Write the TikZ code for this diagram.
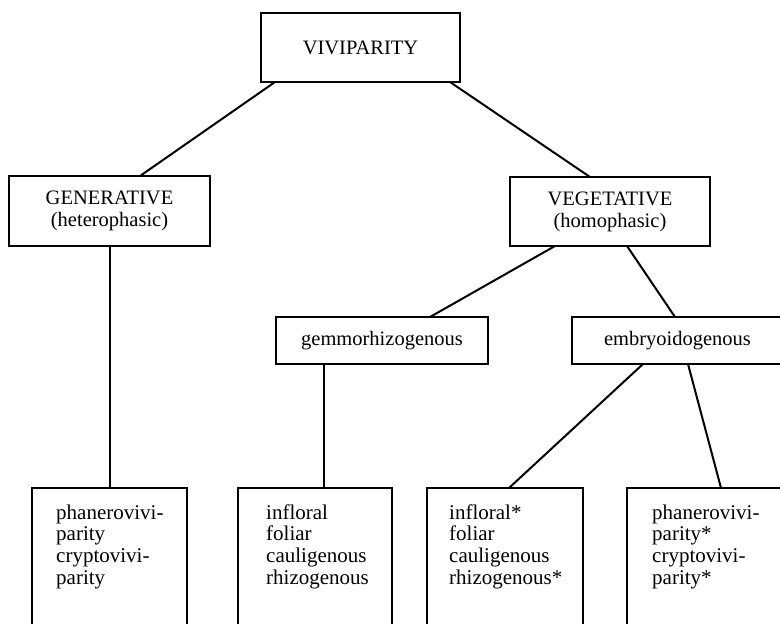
\documentclass[tikz,border=0pt]{standalone}
\usepackage{fontspec}
\setmainfont{Liberation Serif}
\usetikzlibrary{calc}
\begin{document}
\begin{tikzpicture}[x=1pt,y=-1pt,
  box/.style={draw, line width=2.4pt, rectangle, inner sep=0pt, outer sep=0pt,
    align=center, font=\fontsize{20.5}{22}\selectfont},
  leafbox/.style={draw, line width=2.4pt, rectangle, inner sep=0pt, outer sep=0pt,
    anchor=north west, minimum height=170pt},
  leaftext/.style={anchor=north west, inner sep=0pt, align=left,
    font=\fontsize{21}{21.7}\selectfont},
  link/.style={line width=2pt}]
\useasboundingbox (0,0) rectangle (780,624);
\fill[white] (0,0) rectangle (780,624);
\clip (0,0) rectangle (780,624);

% classification boxes
\node[box, minimum width=199pt, minimum height=69pt] (viv) at (360.5,47.5) {VIVIPARITY};
\node[box, minimum width=201pt, minimum height=70pt] (gen) at (109.5,211) {GENERATIVE\\(heterophasic)};
\node[box, minimum width=200pt, minimum height=69pt] (veg) at (610,211.5) {VEGETATIVE\\(homophasic)};
\node[box, minimum width=212pt, minimum height=47pt] (gem) at (382,340.5) {gemmorhizogenous};
\node[box, minimum width=211pt, minimum height=47pt] (emb) at (677.5,340.5) {embryoidogenous};

% open-ended leaf boxes along the bottom
\node[leafbox, minimum width=155pt] (b1) at (32,488) {};
\node[leafbox, minimum width=154pt] (b2) at (238,488) {};
\node[leafbox, minimum width=156pt] (b3) at (427,488) {};
\node[leafbox, minimum width=155pt] (b4) at (627,488) {};

\node[leaftext] (t1) at ($(b1.north west)+(24,15.8)$) {\strut phanerovivi-\\parity\\cryptovivi-\\parity};
\node[leaftext] (t2) at ($(b2.north west)+(28,15.8)$) {\strut infloral\\foliar\\cauligenous\\rhizogenous};
\node[leaftext] (t3) at ($(b3.north west)+(22,15.8)$) {\strut infloral*\\foliar\\cauligenous\\rhizogenous*};
\node[leaftext] (t4) at ($(b4.north west)+(25,15.8)$) {\strut phanerovivi-\\parity*\\cryptovivi-\\parity*};

% connectors
\draw[link] ($(viv.south west)+(14,0)$) -- ($(gen.north west)+(131,0)$);
\draw[link] ($(viv.south east)+(-10,0)$) -- ($(veg.north west)+(80,0)$);
\draw[link] (gen.south) -- (b1.north);
\draw[link] ($(veg.south west)+(45,0)$) -- ($(gem.north east)+(-58,0)$);
\draw[link] ($(veg.south west)+(117,0)$) -- ($(emb.north west)+(103,0)$);
\draw[link] ($(gem.south west)+(48,0)$) -- ($(b2.north west)+(86,0)$);
\draw[link] ($(emb.south west)+(71,0)$) -- ($(b3.north west)+(82,0)$);
\draw[link] ($(emb.south west)+(116,0)$) -- ($(b4.north west)+(94,0)$);
\end{tikzpicture}
\end{document}
